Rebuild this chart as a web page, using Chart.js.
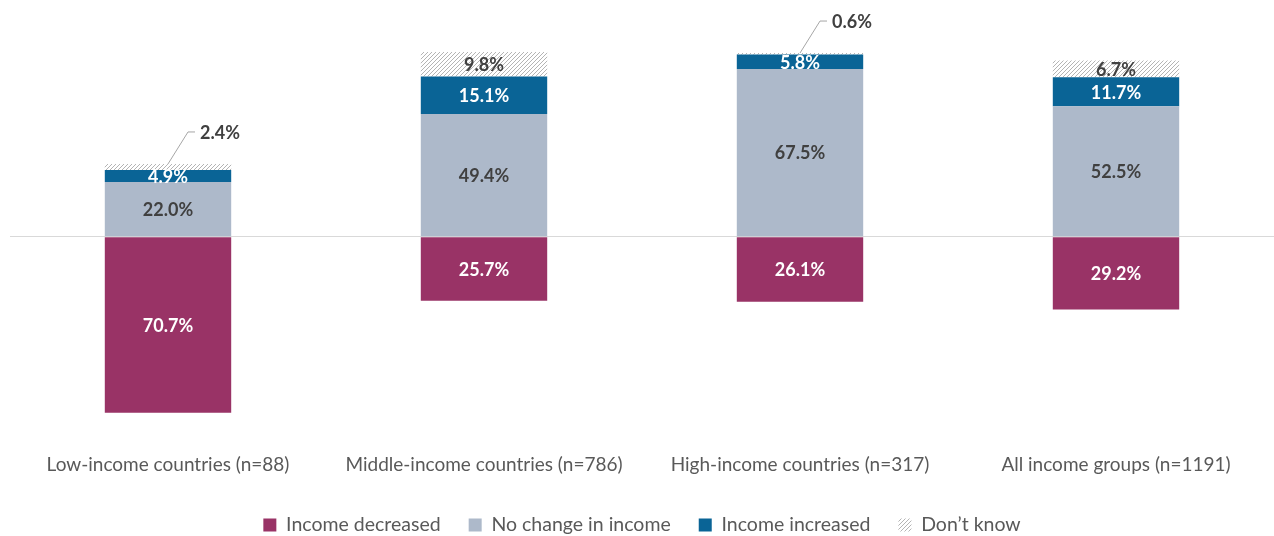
<!DOCTYPE html>
<html>
<head>
<meta charset="utf-8">
<script src="https://cdn.jsdelivr.net/npm/chart.js@4/dist/chart.umd.min.js"></script>
<style>
  html, body { margin: 0; padding: 0; background: #fff; }
  #wrap { width: 1274px; height: 536px; position: relative; }
</style>
</head>
<body>
<div id="wrap"><canvas id="chart"></canvas></div>
<script>
const categories = [
    'Low-income countries (n=88)',
    'Middle-income countries (n=786)',
    'High-income countries (n=317)',
    'All income groups (n=1191)',
];
const incomeDecreased = [-70.7, -25.7, -26.1, -29.2];
const noChange = [22.0, 49.4, 67.5, 52.5];
const incomeIncreased = [4.9, 15.1, 5.8, 11.7];
const dontKnow = [2.4, 9.8, 0.6, 6.7];

const FONT = 'Lato, "Open Sans", sans-serif';

function hatchPattern() {
    const c = document.createElement('canvas');
    c.width = 4;
    c.height = 4;
    const g = c.getContext('2d');
    g.fillStyle = '#ffffff';
    g.fillRect(0, 0, 4, 4);
    g.strokeStyle = '#b4b4b4';
    g.lineWidth = 1;
    g.beginPath();
    g.moveTo(-1, 5);
    g.lineTo(5, -1);
    g.moveTo(3, 5);
    g.lineTo(5, 3);
    g.moveTo(-1, 1);
    g.lineTo(1, -1);
    g.stroke();
    return g.createPattern(c, 'repeat');
}

const hatch = hatchPattern();

const labelColors = ['#ffffff', '#404040', '#ffffff', '#404040'];

// values printed on the bars; tiny segments get a leader line
const barLabels = {
    id: 'barLabels',
    afterDatasetsDraw(chart) {
        const ctx = chart.ctx;
        ctx.save();
        ctx.font = 'bold 18px ' + FONT;
        ctx.textBaseline = 'middle';
        chart.data.datasets.forEach((ds, di) => {
            const meta = chart.getDatasetMeta(di);
            meta.data.forEach((bar, i) => {
                const v = ds.data[i];
                const text = Math.abs(v).toFixed(1) + '%';
                if (Math.abs(v) < 3) {
                    const top = Math.min(bar.y, bar.base);
                    const x0 = bar.x;
                    ctx.strokeStyle = '#a6a6a6';
                    ctx.lineWidth = 1;
                    ctx.beginPath();
                    ctx.moveTo(x0, top);
                    ctx.lineTo(x0 + 20, top - 32);
                    ctx.lineTo(x0 + 27, top - 32);
                    ctx.stroke();
                    ctx.fillStyle = '#404040';
                    ctx.textAlign = 'left';
                    ctx.fillText(text, x0 + 32, top - 31);
                } else {
                    ctx.fillStyle = labelColors[di];
                    ctx.textAlign = 'center';
                    ctx.fillText(text, bar.x, (bar.y + bar.base) / 2 + 1);
                }
            });
        });
        ctx.restore();
    },
};

new Chart(document.getElementById('chart'), {
    type: 'bar',
    data: {
        labels: categories,
        datasets: [
            { label: 'Income decreased', data: incomeDecreased, backgroundColor: '#993366' },
            { label: 'No change in income', data: noChange, backgroundColor: '#adb9ca' },
            { label: 'Income increased', data: incomeIncreased, backgroundColor: '#0a6496' },
            { label: 'Don\u2019t know', data: dontKnow, backgroundColor: hatch },
        ],
    },
    options: {
        responsive: true,
        maintainAspectRatio: false,
        animation: false,
        datasets: {
            bar: { categoryPercentage: 1, barPercentage: 0.4 },
        },
        layout: {
            padding: { left: 10, right: 0, top: 13, bottom: -8.75 },
        },
        plugins: {
            legend: {
                position: 'bottom',
                labels: {
                    boxWidth: 13,
                    boxHeight: 13,
                    padding: 28,
                    color: '#595959',
                    font: { family: FONT, size: 19.5 },
                },
            },
            tooltip: { enabled: false },
        },
        scales: {
            x: {
                stacked: true,
                grid: { display: false, drawTicks: false },
                border: { display: false },
                ticks: {
                    color: '#595959',
                    padding: 18,
                    font: { family: FONT, size: 19 },
                },
                afterFit(scale) {
                    scale.height = 51.45;
                },
            },
            y: {
                stacked: true,
                display: true,
                min: -80,
                max: 90,
                grid: {
                    color: (c) => (c.tick && c.tick.value === 0 ? '#d9d9d9' : 'rgba(0,0,0,0)'),
                    drawTicks: false,
                },
                border: { display: false },
                ticks: { display: false, stepSize: 10 },
            },
        },
    },
    plugins: [barLabels],
});
</script>
</body>
</html>
